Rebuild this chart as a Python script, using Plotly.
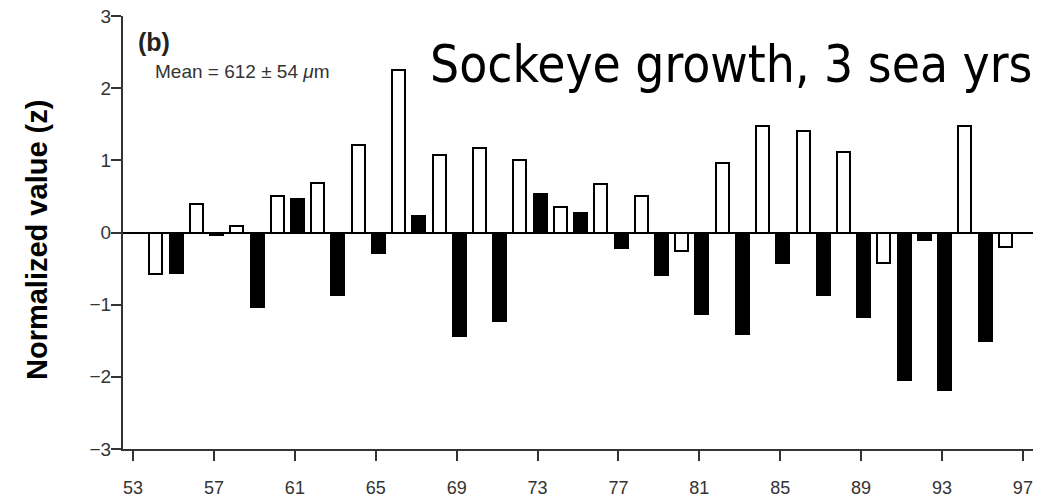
import plotly.graph_objects as go

# ---- data ----
years = list(range(54, 97))
values = [-0.58, -0.56, 0.40, -0.04, 0.09, -1.03, 0.51, 0.47, 0.68, -0.87,
          1.21, -0.29, 2.25, 0.23, 1.07, -1.43, 1.17, -1.23, 1.00, 0.54,
          0.36, 0.27, 0.67, -0.22, 0.50, -0.59, -0.25, -1.13, 0.97, -1.41,
          1.48, -0.42, 1.41, -0.87, 1.11, -1.17, -0.42, -2.04, -0.11, -2.18,
          1.47, -1.50, -0.20]
fills = ["W", "B", "W", "B", "W", "B", "W", "B", "W", "B",
         "W", "B", "W", "B", "W", "B", "W", "B", "W", "B",
         "W", "B", "W", "B", "W", "B", "W", "B", "W", "B",
         "W", "B", "W", "B", "W", "B", "W", "B", "B", "B",
         "W", "B", "W"]
x_ticks = list(range(53, 98, 4))
y_ticks = [-3, -2, -1, 0, 1, 2, 3]

title_text = "Sockeye growth, 3 sea yrs"
panel_label = "(b)"
mean_text = "Mean = 612 ± 54 <i>μ</i>m"
y_title = "Normalized value (z)"

color_map = {"W": "white", "B": "black"}

fig = go.Figure()
fig.add_trace(go.Bar(
    x=years, y=values,
    marker=dict(color=[color_map[f] for f in fills],
                line=dict(color="black", width=2)),
    width=0.64, offset=-0.19,
    showlegend=False,
))

L, R, T, B = 123, 27, 16, 50
W, H = 1060, 499
pw, ph = W - L - R, H - T - B

def px_x(x):
    return (x - L) / pw

def px_y(y):
    return (H - B - y) / ph

tickfont = dict(family="Liberation Sans, Arial, sans-serif", size=18, color="#333")

fig.update_layout(
    width=W, height=H,
    margin=dict(l=L, r=R, t=T, b=B, pad=0),
    plot_bgcolor="white", paper_bgcolor="white",
    bargap=0,
    xaxis=dict(range=[52.5, 97.5], tickmode="array", tickvals=x_ticks,
               ticktext=[str(v) for v in x_ticks],
               ticks="outside", ticklen=10, tickwidth=2, tickcolor="#333",
               showline=True, linecolor="#333", linewidth=2,
               showgrid=False, zeroline=False, tickfont=tickfont,
               ticklabelstandoff=11, automargin=False),
    yaxis=dict(range=[-3, 3], tickmode="array", tickvals=y_ticks,
               ticktext=[str(v).replace("-", "−") for v in y_ticks],
               ticks="outside", ticklen=10, tickwidth=2, tickcolor="#333",
               showline=True, linecolor="#333", linewidth=2,
               showgrid=False, zeroline=True, zerolinecolor="black",
               zerolinewidth=2, tickfont=dict(tickfont, size=19),
               ticklabelstandoff=-4, automargin=False),
    annotations=[
        dict(text=title_text, xref="paper", yref="paper",
             x=px_x(1035), y=px_y(65), xanchor="right", yanchor="middle",
             showarrow=False,
             font=dict(family="DejaVu Sans Condensed, DejaVu Sans", size=51, color="black")),
        dict(text="<b>" + panel_label + "</b>", xref="paper", yref="paper",
             x=px_x(136), y=px_y(42), xanchor="left", yanchor="middle",
             showarrow=False,
             font=dict(family="Liberation Sans, Arial", size=25, color="#222")),
        dict(text=mean_text, xref="paper", yref="paper",
             x=px_x(153), y=px_y(72), xanchor="left", yanchor="middle",
             showarrow=False,
             font=dict(family="Liberation Sans, Arial", size=19, color="#333")),
        dict(text="<b>" + y_title + "</b>", xref="paper", yref="paper",
             x=px_x(37), y=px_y(240), xanchor="center", yanchor="middle",
             textangle=-90, showarrow=False,
             font=dict(family="Liberation Sans, Arial", size=29, color="black")),
    ],
)

fig.write_html("out.html")
